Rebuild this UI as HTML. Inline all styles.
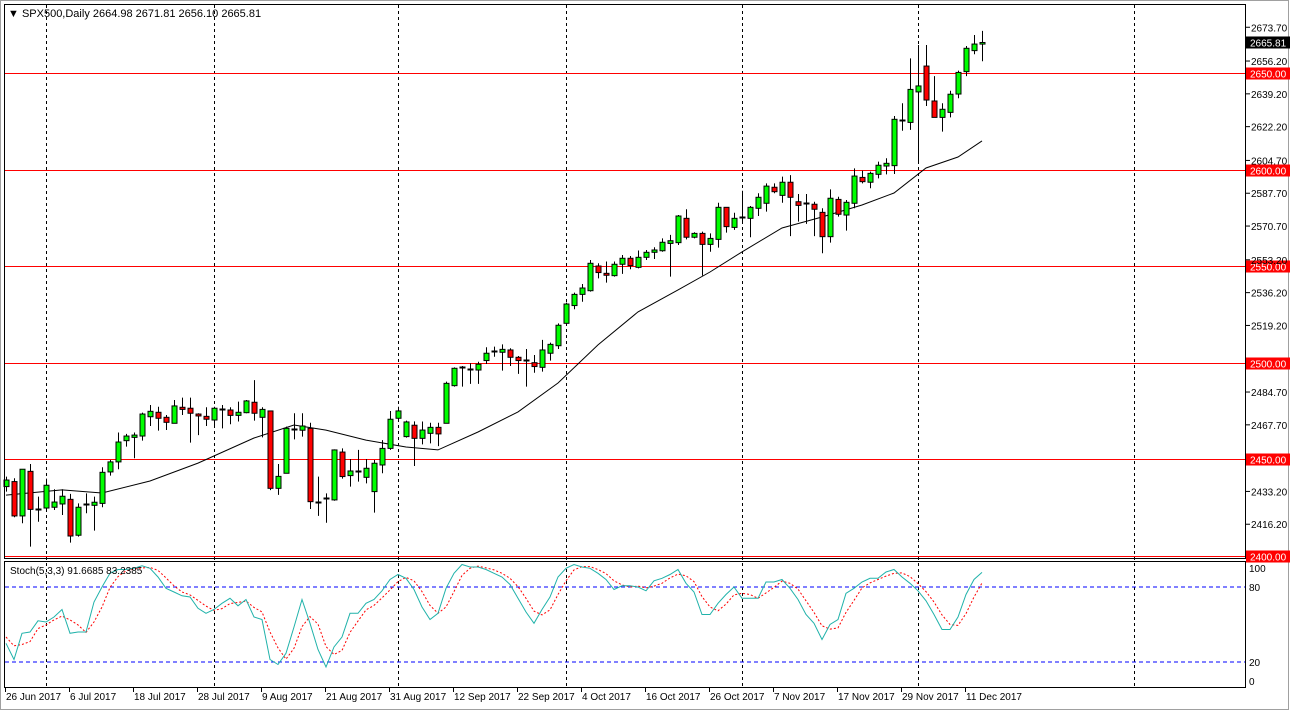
<!DOCTYPE html>
<html><head><meta charset="utf-8"><style>
html,body{margin:0;padding:0;background:#fff;}
svg{display:block;font-family:"Liberation Sans",sans-serif;}
</style></head><body>
<svg id="chart" width="1290" height="710" viewBox="0 0 1290 710" xmlns="http://www.w3.org/2000/svg">
<rect x="0" y="0" width="1290" height="710" fill="#ffffff"/>
<rect x="0.5" y="0.5" width="1288" height="709" fill="none" stroke="#a0a0a0"/>
<g id="grid"></g>
<g id="levels"></g>
<g id="ma"></g>
<g id="candles"></g>
<g id="stoch"></g>
<g id="axes"></g>
<rect x="4.5" y="4.5" width="1241" height="554" fill="none" stroke="#000"/>
<rect x="4.5" y="561.5" width="1241" height="126" fill="none" stroke="#000"/>
<text x="8" y="17" font-size="11" fill="#000">▼  SPX500,Daily  2664.98 2671.81 2656.10 2665.81</text>
<text x="10" y="574" font-size="10" fill="#000">Stoch(5,3,3) 91.6685 83.2385</text>
</svg>
<script>
const opens=[2435.7,2438.3,2420.5,2443.6,2423.9,2424.6,2425.0,2426.7,2429.1,2410.5,2426.4,2426.0,2427.0,2443.3,2448.5,2459.5,2461.2,2461.9,2471.9,2474.2,2471.6,2468.5,2476.8,2476.3,2473.3,2472.1,2470.2,2475.7,2475.4,2472.6,2474.0,2479.4,2471.6,2474.9,2434.8,2442.6,2465.0,2464.9,2465.9,2427.4,2429.5,2428.8,2453.6,2441.4,2443.3,2440.5,2433.1,2446.9,2455.5,2471.1,2461.6,2467.5,2460.7,2463.3,2466.4,2468.5,2488.0,2497.5,2496.5,2496.1,2501.0,2505.5,2505.3,2506.5,2502.7,2501.1,2499.9,2497.5,2504.8,2508.7,2520.3,2529.5,2535.3,2537.2,2550.0,2546.2,2545.0,2550.9,2554.0,2549.3,2554.5,2557.1,2557.9,2561.7,2562.1,2574.7,2564.9,2566.9,2561.2,2563.8,2580.4,2570.0,2575.2,2574.7,2579.9,2582.5,2590.8,2586.6,2593.4,2583.3,2582.5,2582.0,2577.8,2565.2,2584.5,2576.4,2582.5,2595.9,2593.4,2597.5,2601.8,2602.0,2625.5,2624.4,2640.2,2653.6,2635.5,2627.0,2629.6,2639.1,2650.7,2661.6,2664.98];
const closes=[2439.1,2420.5,2444.7,2423.9,2424.3,2436.4,2427.7,2430.7,2410.1,2425.0,2426.7,2427.6,2443.1,2448.5,2458.8,2461.9,2462.4,2473.3,2474.7,2471.1,2469.0,2477.5,2475.7,2473.7,2472.3,2470.6,2476.3,2476.1,2472.6,2474.2,2480.1,2473.7,2475.7,2434.8,2441.0,2465.9,2465.4,2467.1,2427.9,2427.7,2429.8,2454.7,2440.9,2443.8,2443.6,2445.2,2447.8,2455.5,2470.6,2474.9,2469.2,2460.7,2465.0,2466.4,2463.0,2489.2,2497.0,2497.9,2496.8,2499.1,2504.8,2505.8,2506.8,2502.7,2501.0,2500.8,2497.9,2506.5,2509.4,2519.3,2530.3,2535.3,2538.6,2551.4,2546.6,2545.2,2550.9,2554.0,2550.2,2554.5,2557.1,2558.3,2562.3,2563.1,2575.9,2564.9,2566.9,2561.2,2564.3,2580.4,2570.4,2574.7,2575.6,2580.4,2585.6,2591.4,2588.5,2593.4,2585.6,2581.4,2582.1,2579.4,2565.2,2585.1,2576.8,2583.0,2596.6,2593.7,2598.0,2602.2,2603.2,2626.0,2625.8,2641.5,2643.3,2636.0,2627.0,2631.2,2639.0,2650.3,2662.8,2665.0,2665.81];
const highs=[2440.9,2440.0,2444.7,2447.4,2430.5,2439.8,2434.3,2434.3,2431.9,2427.0,2432.2,2430.5,2445.7,2449.5,2463.7,2463.0,2463.7,2474.0,2478.0,2477.1,2472.8,2480.6,2481.8,2481.8,2473.7,2476.8,2477.1,2478.0,2476.8,2479.7,2480.6,2490.9,2476.8,2474.9,2447.4,2466.8,2473.7,2473.7,2468.8,2440.9,2432.2,2455.0,2455.5,2450.0,2454.7,2450.0,2449.5,2459.8,2474.9,2477.1,2469.9,2469.5,2469.4,2468.8,2468.8,2490.1,2497.5,2498.2,2499.6,2500.4,2507.9,2508.2,2509.4,2507.4,2503.4,2507.0,2503.9,2511.7,2510.3,2520.3,2531.0,2536.2,2540.7,2553.1,2551.4,2552.3,2552.3,2555.7,2555.2,2558.0,2558.3,2559.7,2564.3,2566.1,2576.4,2579.4,2567.5,2567.8,2566.9,2582.8,2580.4,2577.6,2589.0,2581.1,2587.7,2592.8,2592.8,2596.3,2597.1,2587.3,2587.3,2583.3,2579.9,2589.7,2585.9,2584.2,2600.6,2599.4,2598.9,2604.1,2605.8,2627.7,2634.3,2657.6,2664.5,2664.5,2648.4,2634.3,2640.8,2651.2,2664.0,2669.7,2671.81];
const lows=[2433.1,2419.8,2416.7,2404.6,2417.5,2423.9,2423.6,2421.0,2406.7,2409.8,2421.9,2412.9,2425.0,2441.4,2444.7,2456.4,2450.4,2459.5,2467.1,2464.7,2465.0,2468.5,2472.8,2458.5,2462.4,2467.1,2466.8,2465.9,2468.0,2469.4,2473.7,2469.9,2461.2,2433.9,2431.4,2442.6,2460.2,2461.6,2424.1,2420.5,2417.0,2428.4,2439.8,2435.7,2438.3,2437.4,2422.2,2442.6,2454.7,2470.6,2461.1,2446.4,2457.6,2458.1,2456.7,2468.5,2487.5,2487.5,2488.9,2488.9,2499.2,2503.0,2495.8,2498.2,2494.1,2487.5,2494.7,2495.3,2501.0,2507.0,2520.0,2527.6,2531.5,2536.7,2543.6,2541.4,2544.5,2545.9,2548.3,2548.8,2553.1,2553.6,2557.4,2544.5,2560.9,2563.8,2564.3,2545.0,2557.4,2559.5,2567.3,2568.7,2572.1,2564.9,2575.9,2578.2,2587.7,2582.8,2565.5,2573.0,2571.8,2565.5,2556.6,2562.1,2575.6,2568.3,2579.9,2592.8,2590.3,2595.4,2597.5,2597.7,2620.1,2620.5,2603.5,2632.9,2627.0,2619.6,2627.0,2636.9,2648.4,2659.7,2656.10];
const maBars=[0,7,12,18,24,31,36,40,45,50,54,59,64,69,74,79,84,88,92,97,102,107,111,115,119,122];
const maValues=[2431.3,2434.0,2432.4,2438.6,2447.9,2460.9,2467.6,2465.0,2459.8,2456.2,2454.7,2464.0,2474.4,2489.4,2509.1,2526.2,2537.6,2546.9,2557.3,2569.7,2575.4,2581.6,2587.8,2600.8,2606.5,2614.8];
const stochK=[35,22,43,44,53,52,56,62,43,44,44,68,80,91,94,94,95,97,95,88,79,76,73,72,63,59,62,67,71,65,70,56,54,22,18,27,48,70,51,30,16,32,40,59,59,67,70,77,86,90,87,78,64,54,59,79,91,98,96,96,94,91,88,82,71,60,51,62,72,88,95,98,96,95,91,86,78,81,81,80,77,85,87,90,94,83,76,58,58,67,74,80,71,71,71,84,84,86,79,70,58,51,38,50,54,75,79,84,87,87,92,94,88,83,77,69,58,46,46,56,74,86,91.67];
const stochD=[40,33,34,36.3,46.7,49.7,53.7,56.7,53.7,49.7,43.7,52,64,79.7,88.3,93,94.3,95.3,95.7,93.3,87.3,81,76,73.7,69.3,64.7,61.3,62.7,66.7,67.7,68.7,63.7,60,44,31.3,22.3,31,48.3,56.3,50.3,32.3,26,29.3,43.7,52.7,61.7,65.3,71.3,77.7,84.3,87.7,85,76.3,65.3,59,64,76.3,89.3,95,96.7,95.3,93.7,91,87,80.3,71,60.7,57.7,61.7,74,85,93.7,96.3,96.3,94,90.7,85,81.7,80,80.7,79.3,80.7,83,87.3,90.3,89,84.3,72.3,64,61,66.3,73.7,75,74,71,75.3,79.7,84.7,83,78.3,69,59.7,49,46.3,47.3,59.7,69.3,79.3,83.3,86,88.7,91,91.3,88.3,82.7,76.3,68,57.7,50,49.3,58.7,72,83.24];
const levelValues=[2650,2600,2550,2500,2450,2400];
const priceTicks=[2673.70,2656.20,2639.20,2622.20,2604.70,2587.70,2570.70,2553.20,2536.20,2519.20,2484.70,2467.70,2433.20,2416.20];
const monthBars=[5,26,49,70,92,114,141];
const dateLabels=["26 Jun 2017","6 Jul 2017","18 Jul 2017","28 Jul 2017","9 Aug 2017","21 Aug 2017","31 Aug 2017","12 Sep 2017","22 Sep 2017","4 Oct 2017","16 Oct 2017","26 Oct 2017","7 Nov 2017","17 Nov 2017","29 Nov 2017","11 Dec 2017"];
const stochTicks=[100,80,20,0];

const NS="http://www.w3.org/2000/svg";
function xOf(i){return 6+8*i;}
function yOf(p){return 73+(2650-p)*1.93;}
function sy(v){return 687-v*1.25;}
function mk(tag,attrs,parent){const e=document.createElementNS(NS,tag);for(const k in attrs)e.setAttribute(k,attrs[k]);parent.appendChild(e);return e;}
const G=id=>document.getElementById(id);

// month gridlines
monthBars.forEach((b)=>{
  const l=mk('line',{x1:xOf(b)+0.5,x2:xOf(b)+0.5,y1:5,y2:687,stroke:'#000','stroke-dasharray':'3,3','stroke-width':1},G('grid'));
  
  
});
// levels
levelValues.forEach(v=>{
  const y=Math.round(yOf(v))+0.5;
  const l=mk('line',{x1:5,x2:1245,y1:y,y2:y,stroke:'#ff0000','stroke-width':1},G('levels'));
  
  
  const r=mk('rect',{x:1246,y:y-6,width:44,height:12,fill:'#ff0000'},G('axes'));
  
  
  const t=mk('text',{x:1250,y:y+4,'font-size':10,fill:'#fff'},G('axes'));
  t.textContent=v.toFixed(2);
  
  
});
// price ticks
priceTicks.forEach(v=>{
  const y=yOf(v);
  const tk=mk('line',{x1:1245,x2:1250,y1:y,y2:y,stroke:'#000'},G('axes'));
  
  
  const t=mk('text',{x:1251,y:y+4,'font-size':10,fill:'#000'},G('axes'));
  t.textContent=v.toFixed(2);
  
  
});
// current price
{
  const last=closes[closes.length-1];const y=yOf(last);
  const r=mk('rect',{x:1246,y:y-6,width:44,height:12,fill:'#000'},G('axes'));
  
  
  const t=mk('text',{x:1250,y:y+4,'font-size':10,fill:'#fff'},G('axes'));
  t.textContent=last.toFixed(2);
  
  
}
// MA
{
  const pts=maBars.map((b,i)=>xOf(b)+','+yOf(maValues[i]).toFixed(1)).join(' ');
  const pl=mk('polyline',{points:pts,fill:'none',stroke:'#000','stroke-width':1},G('ma'));
  
  
}
// candles
opens.forEach((o,i)=>{
  const c=closes[i],x=xOf(i)+0.5;
  const w=mk('line',{x1:x,x2:x,y1:yOf(highs[i]),y2:yOf(lows[i]),stroke:'#000','stroke-width':1},G('candles'));
  
  
  const yt=yOf(Math.max(o,c)),yb=yOf(Math.min(o,c));
  if(yb-yt<1.5){
    const d=mk('line',{x1:x-3,x2:x+3,y1:Math.round(yt)+0.5,y2:Math.round(yt)+0.5,stroke:'#000','stroke-width':2},G('candles'));
    
    
  }else{
    const b=mk('rect',{x:x-2.5,y:yt,width:5,height:yb-yt,fill:c>=o?'#00ff00':'#ff0000',stroke:'#000','stroke-width':1},G('candles'));
    
    
  }
});
// stochastic
[80,20].forEach(v=>{
  const l=mk('line',{x1:5,x2:1245,y1:sy(v),y2:sy(v),stroke:'#0000ff','stroke-dasharray':'4,3'},G('stoch'));
  
  
});
{
  const kp=stochK.map((v,i)=>xOf(i)+','+sy(v).toFixed(1)).join(' ');
  const dp=stochD.map((v,i)=>xOf(i)+','+sy(v).toFixed(1)).join(' ');
  const dl=mk('polyline',{points:dp,fill:'none',stroke:'#ff0000','stroke-dasharray':'2,2','stroke-width':1},G('stoch'));
  
  
  const kl=mk('polyline',{points:kp,fill:'none',stroke:'#20b2aa','stroke-width':1},G('stoch'));
  
  
}
stochTicks.forEach(v=>{
  const y=Math.min(Math.max(sy(v),568),681);
  const t=mk('text',{x:1249,y:y+4,'font-size':10,fill:'#000'},G('axes'));
  t.textContent=String(v);
  
  
});
// dates
dateLabels.forEach((s,i)=>{
  const x=xOf(i*8)-1;
  const tk=mk('line',{x1:x+0.5,x2:x+0.5,y1:687,y2:692,stroke:'#000'},G('axes'));
  
  
  const t=mk('text',{x:x+1,y:700,'font-size':10,fill:'#000'},G('axes'));
  t.textContent=s;
  
  
});
</script>
</body></html>
